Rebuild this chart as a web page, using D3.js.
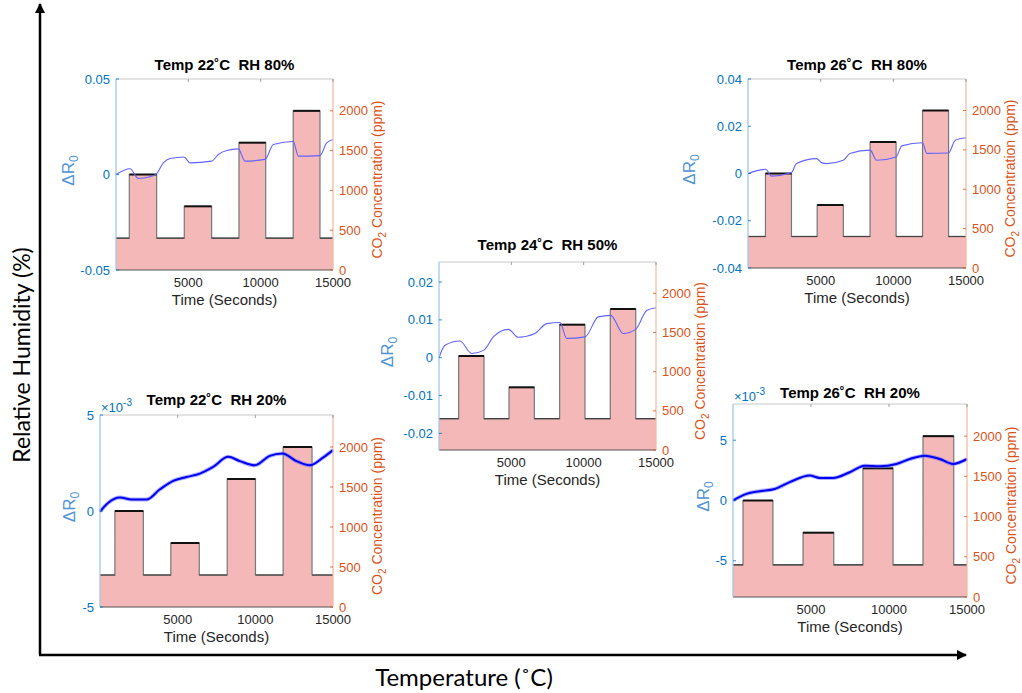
<!DOCTYPE html>
<html>
<head>
<meta charset="utf-8">
<script src="https://cdn.jsdelivr.net/npm/d3@7"></script>
<style>
  body { margin: 0; background: #fff; }
  text { font-family: "Liberation Sans", Arial, sans-serif; }
</style>
</head>
<body>
<svg id="svg" width="1022" height="693"></svg>
<script>
// ---- data ----
var timeTicks = [5000, 10000, 15000];
var co2Ticks = [0, 500, 1000, 1500, 2000];
var co2Base = 400;

// panel titles
var titles = ['Temp 22˚C  RH 80%', 'Temp 24˚C  RH 50%', 'Temp 26˚C  RH 80%',
              'Temp 22˚C  RH 20%', 'Temp 26˚C  RH 20%'];

// CO2 pulses: [start, end] in seconds, and pulse level in ppm
var steps22h = [[920, 2810], [4720, 6610], [8500, 10350], [12250, 14100]];
var levels22h = [1200, 800, 1600, 2000];
var steps24m = [[1360, 3110], [4840, 6590], [8340, 10090], [11840, 13600]];
var levels24m = [1200, 800, 1600, 1800];
var steps26h = [[1200, 2990], [4760, 6560], [8400, 10190], [12010, 13800]];
var levels26h = [1200, 800, 1600, 2000];
var steps22l = [[960, 2790], [4560, 6390], [8190, 10010], [11790, 13650]];
var levels22l = [1200, 800, 1600, 2000];
var steps26l = [[640, 2560], [4490, 6460], [8330, 10260], [12180, 14150]];
var levels26l = [1200, 800, 1600, 2000];

// Delta R0 response
var r22hT = [0, 968, 1544, 2350, 2811, 3272, 3733, 4700, 5115, 6615, 7073, 7650, 8456, 8917, 10300, 10875, 12258, 12604, 14101, 14562, 15000];
var r22hV = [0, 0.003, -0.0021, -0.0012, 0.0005, 0.0061, 0.0084, 0.0092, 0.0061, 0.007, 0.0105, 0.0126, 0.0134, 0.007, 0.0079, 0.0157, 0.0173, 0.0096, 0.0099, 0.0166, 0.0183];
var r24mT = [0, 415, 1452, 2258, 3110, 3756, 4790, 5482, 6636, 7442, 8364, 8825, 10092, 11013, 11866, 12742, 13597, 14355, 15000];
var r24mV = [0, 0.0033, 0.0044, 0.0011, 0.002, 0.0055, 0.0075, 0.0054, 0.0064, 0.009, 0.0093, 0.0051, 0.0055, 0.0108, 0.0112, 0.0064, 0.0075, 0.0125, 0.0132];
var r26hT = [0, 1221, 1612, 2994, 3339, 4719, 5064, 5409, 6555, 7017, 8397, 8859, 10191, 10582, 12006, 12309, 13800, 14262, 15000];
var r26hV = [0, 0.0018, -0.0011, 0.0004, 0.0042, 0.0063, 0.0046, 0.0042, 0.0056, 0.0085, 0.0099, 0.0056, 0.007, 0.0117, 0.013, 0.0085, 0.0087, 0.0141, 0.0151];
// x 1e-3
var r22lT = [0, 536, 1286, 2036, 3000, 3857, 4714, 5571, 6429, 7286, 8250, 9000, 9964, 10929, 11743, 12643, 13500, 14357, 15000];
var r22lV = [-0.03, 0.43, 0.7, 0.6, 0.6, 1.13, 1.57, 1.77, 1.95, 2.3, 2.82, 2.6, 2.38, 2.87, 3.0, 2.6, 2.38, 2.78, 3.17];
var r26lT = [0, 859, 1712, 2673, 3635, 4917, 5558, 6413, 7481, 8442, 9404, 10474, 11327, 12288, 13250, 14103, 15000];
var r26lV = [0, 0.55, 0.77, 0.96, 1.52, 2.07, 1.87, 1.87, 2.34, 2.89, 2.84, 3.03, 3.44, 3.72, 3.44, 3.03, 3.44];

var ticks22h = [-0.05, 0, 0.05];
var ticks24m = [-0.02, -0.01, 0, 0.01, 0.02];
var ticks26h = [-0.04, -0.02, 0, 0.02, 0.04];
var ticksLow = [-5, 0, 5];

// ---- layout ----
var panels = [
  {title: titles[0], x0: 116, x1: 333, y0: 79, y1: 270, dom: [-0.05, 0.05], ticks: ticks22h,
   t: r22hT, v: r22hV, steps: steps22h, levels: levels22h, thick: false, exp: false, ty: 14, ldx: 48},
  {title: titles[1], x0: 439, x1: 656, y0: 262, y1: 450, dom: [-0.0244, 0.0253], ticks: ticks24m,
   t: r24mT, v: r24mV, steps: steps24m, levels: levels24m, thick: false, exp: false, ty: 17, ldx: 52},
  {title: titles[2], x0: 748, x1: 966, y0: 79, y1: 268, dom: [-0.04, 0.04], ticks: ticks26h,
   t: r26hT, v: r26hV, steps: steps26h, levels: levels26h, thick: false, exp: false, ty: 14, ldx: 59},
  {title: titles[3], x0: 100, x1: 333, y0: 415, y1: 607, dom: [-5, 5], ticks: ticksLow,
   t: r22lT, v: r22lV, steps: steps22l, levels: levels22l, thick: true, exp: true, ty: 15, ldx: 31},
  {title: titles[4], x0: 733, x1: 967, y0: 404, y1: 597, dom: [-8, 8], ticks: ticksLow,
   t: r26lT, v: r26lV, steps: steps26l, levels: levels26l, thick: true, exp: true, ty: 11, ldx: 30}
];

var BLUE = '#0072bd', ORANGE = '#d95319';
var svg = d3.select('#svg');

// big outer axes
var defs = svg.append('defs');
defs.append('marker').attr('id', 'arrow')
  .attr('viewBox', '0 0 10 10').attr('refX', 9).attr('refY', 5)
  .attr('markerWidth', 4).attr('markerHeight', 4).attr('orient', 'auto')
  .append('path').attr('d', 'M0,0L10,5L0,10z').attr('fill', '#000');

svg.append('line').attr('x1', 40).attr('y1', 655).attr('x2', 40).attr('y2', 4)
  .attr('stroke', '#000').attr('stroke-width', 2.5).attr('marker-end', 'url(#arrow)');
svg.append('line').attr('x1', 39).attr('y1', 655).attr('x2', 966).attr('y2', 655)
  .attr('stroke', '#000').attr('stroke-width', 2.5).attr('marker-end', 'url(#arrow)');

svg.append('text').text('Relative Humidity (%)')
  .attr('transform', 'translate(30,355) rotate(-90)')
  .attr('text-anchor', 'middle').style('font-family', 'Lato, sans-serif')
  .style('font-size', '23px').attr('fill', '#000');
svg.append('text').text('Temperature (˚C)')
  .attr('x', 464).attr('y', 686)
  .attr('text-anchor', 'middle').style('font-family', 'Lato, sans-serif')
  .style('font-size', '24px').attr('fill', '#000');

function drawPanel(p) {
  var g = svg.append('g');
  var x = d3.scaleLinear().domain([0, 15000]).range([p.x0, p.x1]);
  var yL = d3.scaleLinear().domain(p.dom).range([p.y1, p.y0]);
  var yR = d3.scaleLinear().domain([0, 2400]).range([p.y1, p.y0]);

  // CO2 step profile
  var pts = [[0, co2Base]];
  p.steps.forEach(function(s, i) {
    pts.push([s[0], p.levels[i]]);
    pts.push([s[1], co2Base]);
  });
  pts.push([15000, co2Base]);

  g.append('path').datum(pts)
    .attr('d', d3.area().curve(d3.curveStepAfter)
      .x(function(d) { return x(d[0]); })
      .y0(p.y1).y1(function(d) { return yR(d[1]); }))
    .attr('fill', '#f5b8b8');
  g.append('path').datum(pts)
    .attr('d', d3.line().curve(d3.curveStepAfter)
      .x(function(d) { return x(d[0]); })
      .y(function(d) { return yR(d[1]); }))
    .attr('fill', 'none').attr('stroke', '#777').attr('stroke-width', 1.2);
  // darker plateau tops
  g.selectAll('line.top').data(pts.slice(0, -1)).enter().append('line')
    .attr('x1', function(d) { return x(d[0]); })
    .attr('x2', function(d, i) { return x(pts[i + 1][0]); })
    .attr('y1', function(d) { return yR(d[1]); })
    .attr('y2', function(d) { return yR(d[1]); })
    .attr('stroke', function(d) { return d[1] > co2Base ? '#111' : '#444'; })
    .attr('stroke-width', function(d) { return d[1] > co2Base ? 2 : 1.3; });

  // Delta R0 line
  var rv = p.t.map(function(t, i) { return [t, p.v[i]]; });
  var line = d3.line().curve(d3.curveMonotoneX)
    .x(function(d) { return x(d[0]); })
    .y(function(d) { return yL(d[1]); });
  if (p.thick) {
    g.append('path').datum(rv).attr('d', line).attr('fill', 'none')
      .attr('stroke', '#6b6bff').attr('stroke-width', 4).attr('opacity', 0.55);
    g.append('path').datum(rv).attr('d', line).attr('fill', 'none')
      .attr('stroke', '#0000ee').attr('stroke-width', 2);
  } else {
    g.append('path').datum(rv).attr('d', line).attr('fill', 'none')
      .attr('stroke', '#6262ff').attr('stroke-width', 1.1);
  }

  // box edges
  g.append('line').attr('x1', p.x0).attr('x2', p.x1).attr('y1', p.y0).attr('y2', p.y0)
    .attr('stroke', '#c8c8c8').attr('stroke-width', 1);
  g.append('line').attr('x1', p.x0).attr('x2', p.x1).attr('y1', p.y1).attr('y2', p.y1)
    .attr('stroke', '#555').attr('stroke-width', 1);
  g.append('line').attr('x1', p.x0).attr('x2', p.x0).attr('y1', p.y0).attr('y2', p.y1)
    .attr('stroke', '#9cc4e6').attr('stroke-width', 1.2);
  g.append('line').attr('x1', p.x1).attr('x2', p.x1).attr('y1', p.y0).attr('y2', p.y1)
    .attr('stroke', '#f0b89e').attr('stroke-width', 1.2);

  // left ticks
  g.selectAll('text.yl').data(p.ticks).enter().append('text')
    .attr('x', p.x0 - 6).attr('y', function(d) { return yL(d) + 4.5; })
    .attr('text-anchor', 'end').attr('fill', BLUE).style('font-size', '13px')
    .text(function(d) { return String(d); });
  g.selectAll('line.ylt').data(p.ticks).enter().append('line')
    .attr('x1', p.x0).attr('x2', p.x0 + 3)
    .attr('y1', function(d) { return yL(d); }).attr('y2', function(d) { return yL(d); })
    .attr('stroke', BLUE).attr('stroke-width', 0.8);

  // right ticks
  g.selectAll('text.yr').data(co2Ticks).enter().append('text')
    .attr('x', p.x1 + 6).attr('y', function(d) { return yR(d) + 4.5; })
    .attr('fill', ORANGE).style('font-size', '13px')
    .text(function(d) { return String(d); });
  g.selectAll('line.yrt').data(co2Ticks).enter().append('line')
    .attr('x1', p.x1 - 3).attr('x2', p.x1)
    .attr('y1', function(d) { return yR(d); }).attr('y2', function(d) { return yR(d); })
    .attr('stroke', ORANGE).attr('stroke-width', 0.8);

  // x ticks
  g.selectAll('text.xt').data(timeTicks).enter().append('text')
    .attr('x', function(d) { return x(d); }).attr('y', p.y1 + 17)
    .attr('text-anchor', 'middle').attr('fill', '#262626').style('font-size', '13px')
    .text(function(d) { return String(d); });
  g.selectAll('line.xtt').data(timeTicks).enter().append('line')
    .attr('x1', function(d) { return x(d); }).attr('x2', function(d) { return x(d); })
    .attr('y1', p.y0).attr('y2', p.y0 + 3)
    .attr('stroke', '#888').attr('stroke-width', 0.8);

  g.append('text').text('Time (Seconds)')
    .attr('x', (p.x0 + p.x1) / 2).attr('y', p.y1 + 35)
    .attr('text-anchor', 'middle').attr('fill', '#262626').style('font-size', '15px');

  // title
  g.append('text').text(p.title)
    .attr('x', (p.x0 + p.x1) / 2).attr('y', p.y0 - p.ty + 5)
    .attr('text-anchor', 'middle').style('font-size', '15px').style('font-weight', 'bold')
    .style('white-space', 'pre').attr('xml:space', 'preserve').attr('fill', '#000');

  // left label: Delta R0
  var cy = (p.y0 + p.y1) / 2;
  var lt = g.append('text')
    .attr('transform', 'translate(' + (p.x0 - p.ldx + 6) + ',' + (cy - 4) + ') rotate(-90)')
    .attr('text-anchor', 'middle').attr('fill', '#4f93d3').style('font-size', '17px');
  lt.append('tspan').text('ΔR');
  lt.append('tspan').text('0').attr('dy', 4).style('font-size', '12px');

  // right label: CO2 concentration
  var rt = g.append('text')
    .attr('transform', 'translate(' + (p.x1 + 49) + ',' + (cy + 5) + ') rotate(-90)')
    .attr('text-anchor', 'middle').attr('fill', ORANGE).style('font-size', '14px');
  rt.append('tspan').text('CO');
  rt.append('tspan').text('2').attr('dy', 4).style('font-size', '10px');
  rt.append('tspan').text(' Concentration (ppm)').attr('dy', -4);

  // exponent for the x1e-3 panels
  if (p.exp) {
    var et = g.append('text').attr('x', p.x0 + 1).attr('y', p.y0 - 3)
      .attr('fill', BLUE).style('font-size', '13px');
    et.append('tspan').text('×10');
    et.append('tspan').text('-3').attr('dy', -6).style('font-size', '10px');
  }
}

panels.forEach(drawPanel);
</script>
</body>
</html>
